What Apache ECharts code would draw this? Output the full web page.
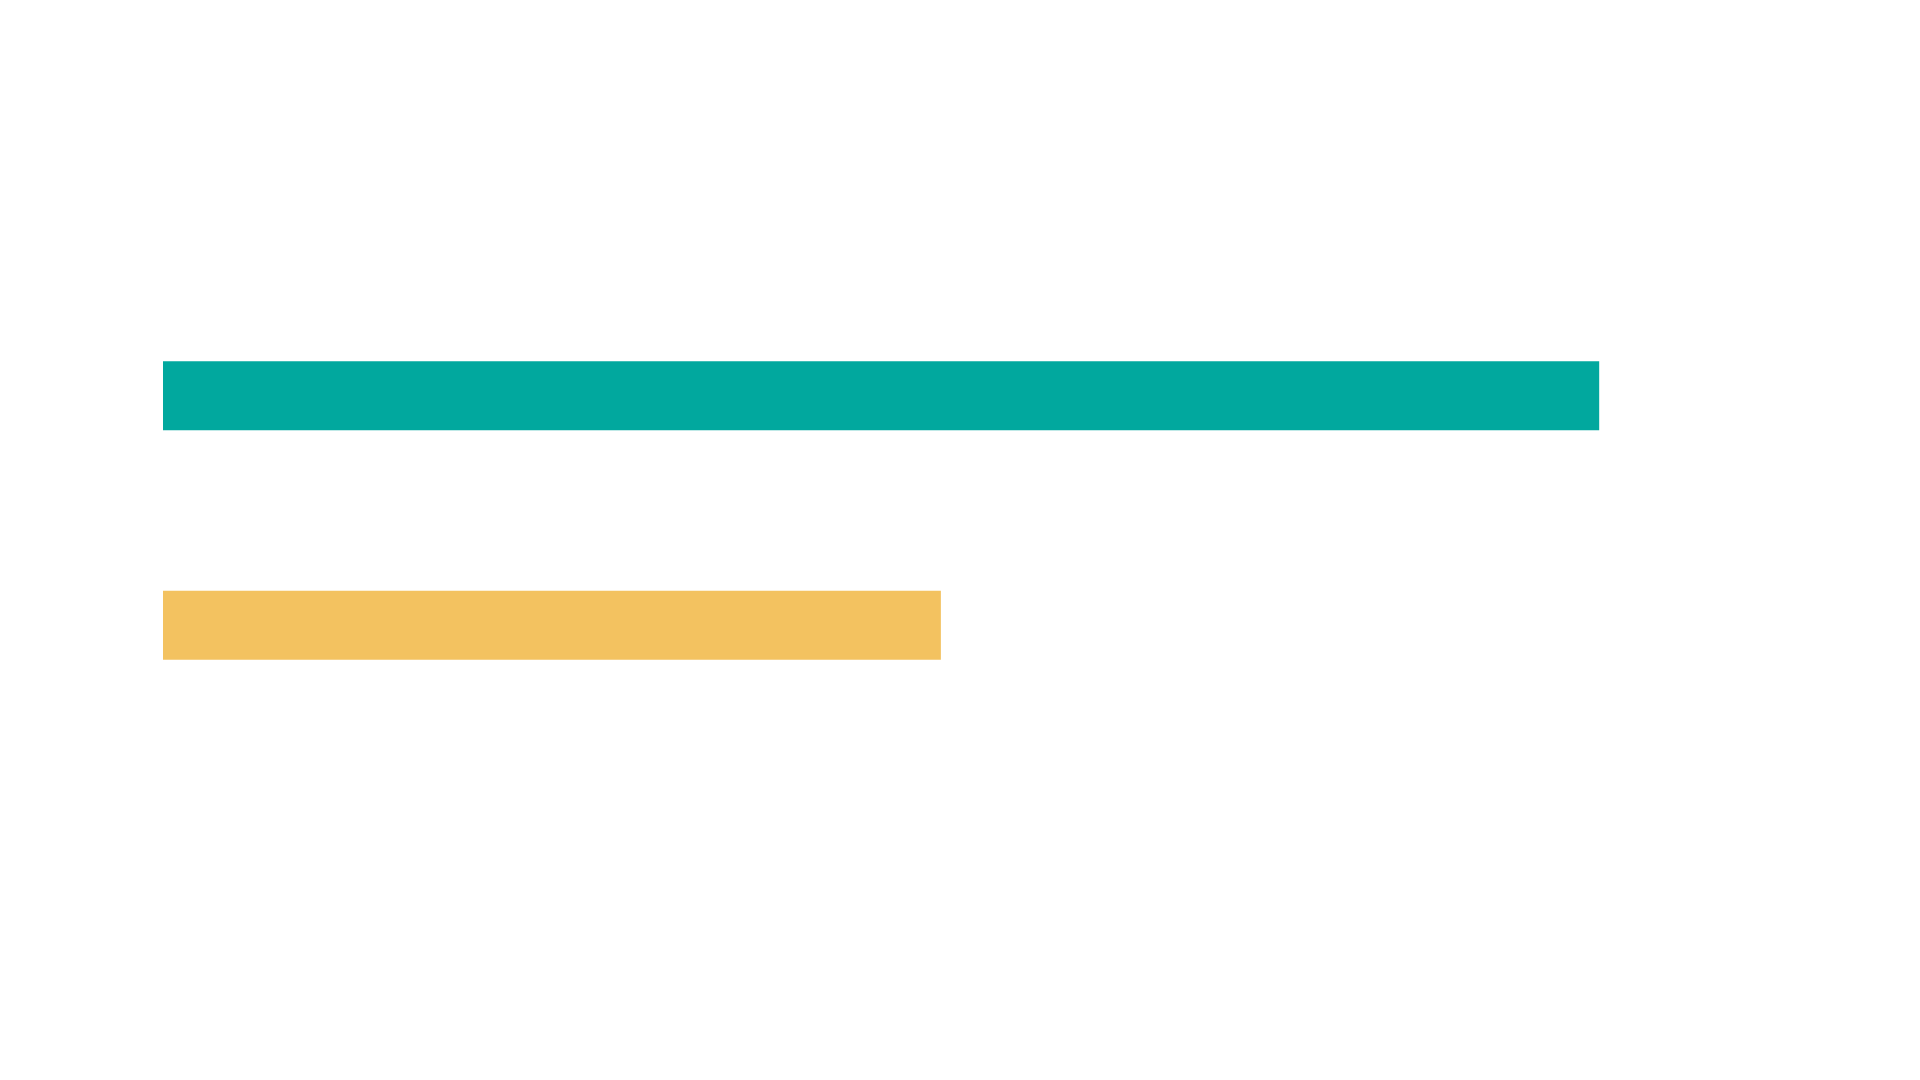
<!DOCTYPE html>
<html>
<head>
<meta charset="utf-8">
<style>
  html, body { margin: 0; padding: 0; background: #fff; }
  #chart { width: 1920px; height: 1080px; }
</style>
<script src="https://cdn.jsdelivr.net/npm/echarts@6/dist/echarts.min.js"></script>
</head>
<body>
<div id="chart"></div>
<script>
// two horizontal bars, no axes or labels shown
const categories = ["A", "B"];
const values = [90.1, 48.8];
const axisMax = 100;

const barColors = ["#01A89E", "#F3C260"];

const chart = echarts.init(document.getElementById("chart"));

chart.setOption({
  backgroundColor: "#ffffff",
  animation: false,
  grid: { left: 163, right: 163, top: 281, height: 459 },
  xAxis: {
    type: "value",
    min: 0,
    max: axisMax,
    show: false
  },
  yAxis: {
    type: "category",
    data: categories,
    inverse: true,
    show: false
  },
  series: [
    {
      type: "bar",
      barWidth: "30%",
      data: values.map((v, i) => ({
        value: v,
        itemStyle: { color: barColors[i] }
      }))
    }
  ]
});
</script>
</body>
</html>
